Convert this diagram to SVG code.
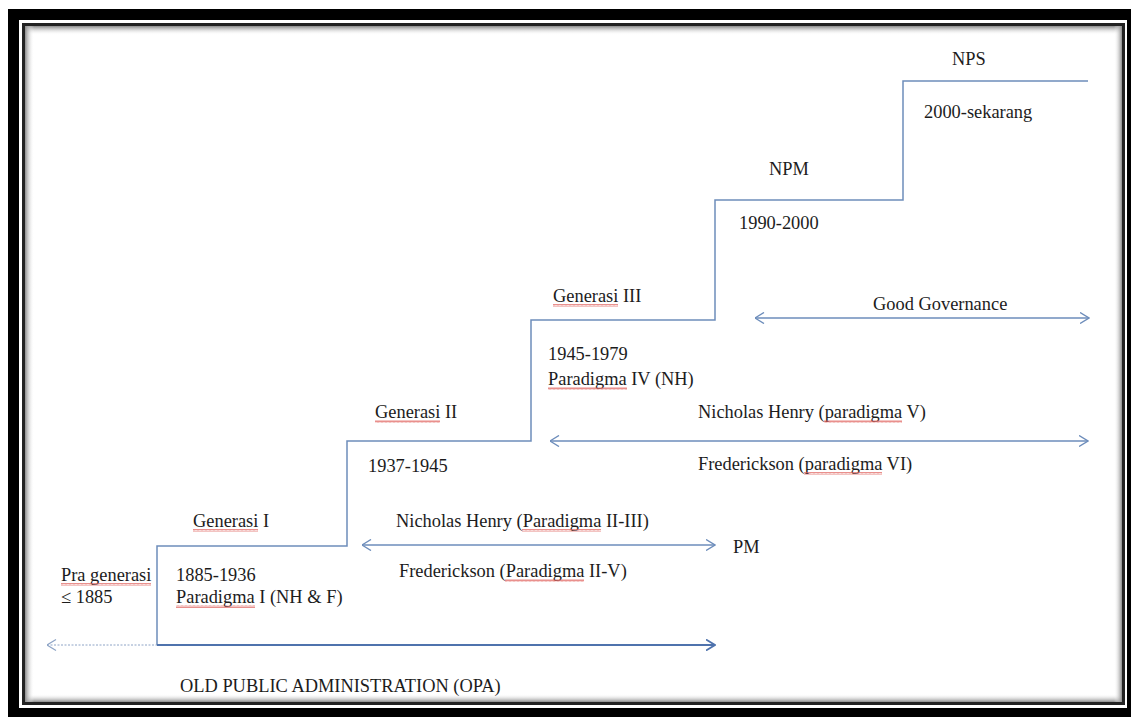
<svg xmlns="http://www.w3.org/2000/svg" width="1133" height="717" viewBox="0 0 1133 717">
<style>
.t{font-family:"Liberation Serif","Times New Roman",serif;font-size:18.4px;fill:#1c1c1c}
.ln{fill:none;stroke:#6d8dbb;stroke-width:1.5}
.ar{fill:none;stroke:#6d8dbb;stroke-width:1.5;marker-start:url(#ah);marker-end:url(#ah)}
.sq{fill:url(#squig)}
</style>
<defs>
<marker id="ah" viewBox="0 0 10 12" refX="9.5" refY="6" markerWidth="10" markerHeight="12" markerUnits="userSpaceOnUse" orient="auto-start-reverse">
<path d="M0.5,0.5 L9.5,6 L0.5,11.5" fill="none" stroke="#6d8dbb" stroke-width="1.4"/>
</marker>
<marker id="ah2" viewBox="0 0 10 12" refX="9.5" refY="6" markerWidth="10" markerHeight="12" markerUnits="userSpaceOnUse" orient="auto-start-reverse">
<path d="M0.5,0.5 L9.5,6 L0.5,11.5" fill="none" stroke="#4f73ad" stroke-width="1.8"/>
</marker>
<marker id="ah3" viewBox="0 0 10 12" refX="0.5" refY="6" markerWidth="10" markerHeight="12" markerUnits="userSpaceOnUse" orient="auto">
<path d="M9.5,0.5 L0.5,6 L9.5,11.5" fill="none" stroke="#8ea4c6" stroke-width="1.2"/>
</marker>
<pattern id="squig" width="4" height="3" patternUnits="userSpaceOnUse">
<path d="M0,2.6 L1,0.4 L2,2.6 L3,0.4 L4,2.6" fill="none" stroke="#e0605c" stroke-width="0.7"/>
</pattern>
<linearGradient id="gT" x1="0" y1="0" x2="0" y2="1"><stop offset="0" stop-color="#8a8a8a"/><stop offset="1" stop-color="#fff" stop-opacity="0"/></linearGradient>
<linearGradient id="gB" x1="0" y1="1" x2="0" y2="0"><stop offset="0" stop-color="#8a8a8a"/><stop offset="1" stop-color="#fff" stop-opacity="0"/></linearGradient>
<linearGradient id="gL" x1="0" y1="0" x2="1" y2="0"><stop offset="0" stop-color="#8a8a8a"/><stop offset="1" stop-color="#fff" stop-opacity="0"/></linearGradient>
<linearGradient id="gR" x1="1" y1="0" x2="0" y2="0"><stop offset="0" stop-color="#8a8a8a"/><stop offset="1" stop-color="#fff" stop-opacity="0"/></linearGradient>
</defs>
<g id="frame">
<rect x="0" y="0" width="1133" height="717" fill="#fff"/>
<rect x="8" y="9" width="1123" height="708" fill="#000"/>
<rect x="19" y="20" width="1108" height="688" fill="#fff"/>
<rect x="23.5" y="24.5" width="1100" height="679" fill="#fff" stroke="#222" stroke-width="3"/>
<rect x="25" y="26" width="1097" height="9" fill="url(#gT)"/>
<rect x="25" y="694" width="1097" height="8" fill="url(#gB)"/>
<rect x="25" y="26" width="9" height="676" fill="url(#gL)"/>
<rect x="1114" y="26" width="8" height="676" fill="url(#gR)"/>
</g>
<g id="connectors">
<path id="stairs" class="ln" d="M157,645 V546 H347 V441 H531 V320 H715 V200 H903 V81 H1088"/>
<line x1="157" y1="645" x2="715" y2="645" stroke="#4f73ad" stroke-width="2" marker-end="url(#ah2)"/>
<line x1="47" y1="645" x2="157" y2="645" stroke="#8ea4c6" stroke-width="1" stroke-dasharray="2,1.5" marker-start="url(#ah3)"/>
<line class="ar" x1="362" y1="545" x2="715" y2="545"/>
<line class="ar" x1="550" y1="441" x2="1088" y2="441"/>
<line class="ar" x1="755" y1="318" x2="1089" y2="318"/>
</g>
<g id="pra">
<text class="t" x="61" y="581">Pra generasi</text>
<text class="t" x="61" y="603">≤ 1885</text>
<rect class="sq" x="61" y="583" width="90" height="3"/>
</g>
<g id="gen1">
<text class="t" x="193" y="527">Generasi I</text>
<rect class="sq" x="193" y="529" width="65" height="3"/>
<text class="t" x="176" y="581">1885-1936</text>
<text class="t" x="176" y="603">Paradigma I (NH &amp; F)</text>
<rect class="sq" x="176" y="605" width="79" height="3"/>
</g>
<g id="gen2">
<text class="t" x="375" y="418">Generasi II</text>
<rect class="sq" x="375" y="420" width="65" height="3"/>
<text class="t" x="368" y="472">1937-1945</text>
</g>
<g id="nh23">
<text class="t" x="396" y="527">Nicholas Henry (Paradigma II-III)</text>
<rect class="sq" x="522" y="529" width="79" height="3"/>
<text class="t" x="399" y="577">Frederickson (Paradigma II-V)</text>
<rect class="sq" x="505" y="579" width="79" height="3"/>
</g>
<g id="pm">
<text class="t" x="733" y="553">PM</text>
</g>
<g id="gen3">
<text class="t" x="553" y="302">Generasi III</text>
<rect class="sq" x="553" y="304" width="65" height="3"/>
<text class="t" x="548" y="360">1945-1979</text>
<text class="t" x="548" y="385">Paradigma IV (NH)</text>
<rect class="sq" x="548" y="387" width="79" height="3"/>
</g>
<g id="nh5">
<text class="t" x="698" y="418">Nicholas Henry (paradigma V)</text>
<rect class="sq" x="824" y="420" width="78" height="3"/>
<text class="t" x="698" y="470">Frederickson (paradigma VI)</text>
<rect class="sq" x="804" y="472" width="78" height="3"/>
</g>
<g id="gg">
<text class="t" x="873" y="310">Good Governance</text>
</g>
<g id="npm">
<text class="t" x="769" y="175">NPM</text>
<text class="t" x="739" y="229">1990-2000</text>
</g>
<g id="nps">
<text class="t" x="952" y="65">NPS</text>
<text class="t" x="924" y="118">2000-sekarang</text>
</g>
<g id="opa">
<text class="t" x="180" y="692">OLD PUBLIC ADMINISTRATION (OPA)</text>
</g>
</svg>
